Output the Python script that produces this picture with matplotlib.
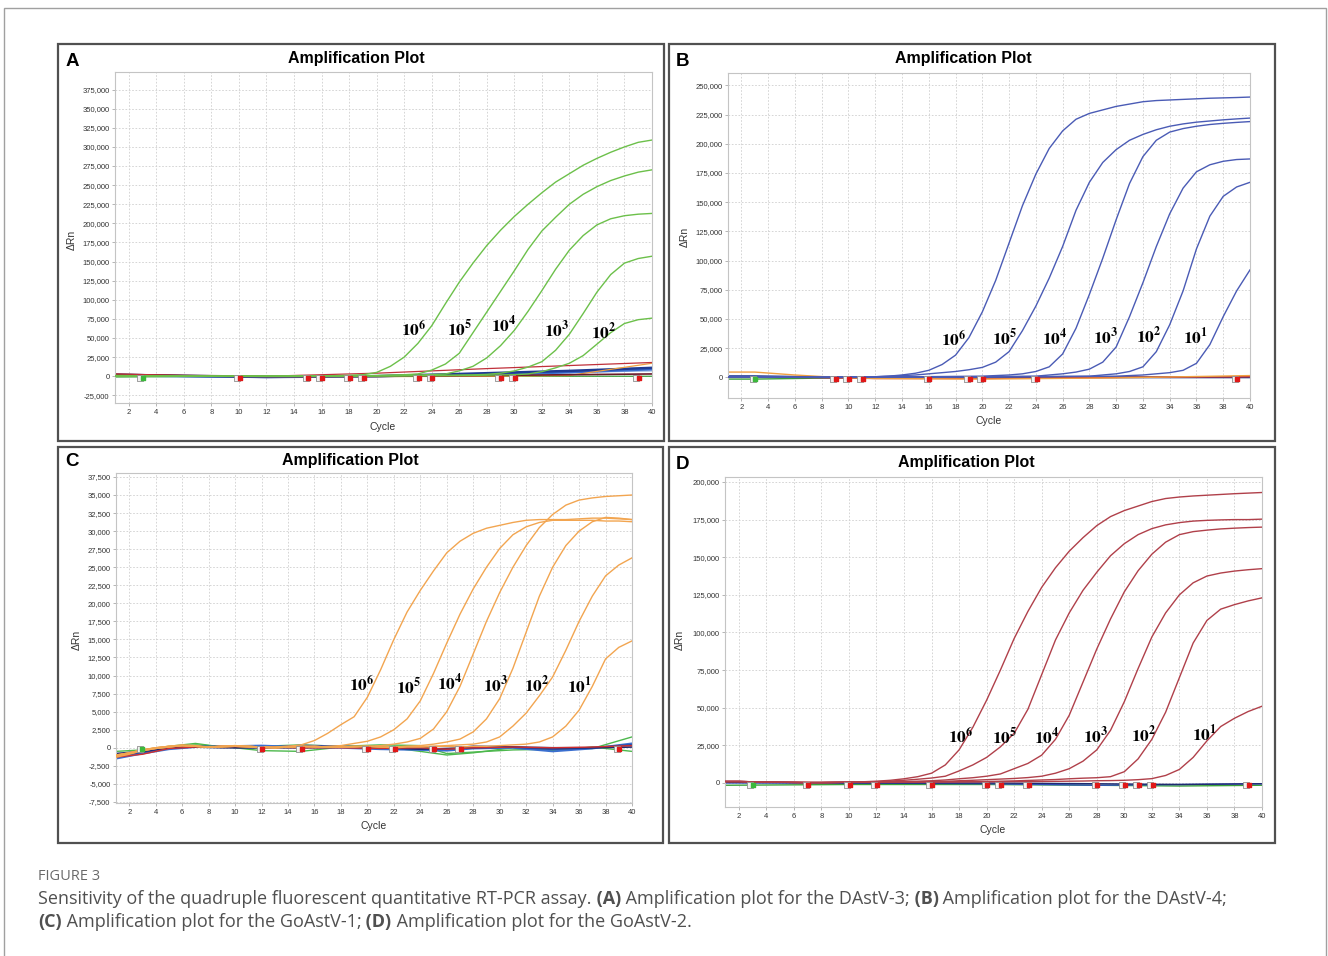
import numpy as np
import matplotlib
matplotlib.use('Agg')
import matplotlib.pyplot as plt
from matplotlib.patches import Rectangle
from matplotlib.ticker import FuncFormatter

plt.rcParams['mathtext.fontset'] = 'stix'

W, H = 1328, 956
cycles = np.arange(1, 41)

# ---- panel A (DAstV-3), delta Rn in thousands, cycles 1..40
a_1e6 = [1, 0.8, 0.5, 0.3, 0.2, 0.1, 0, 0, 0, 0, 0, 0, 0.1, 0.2, 0.3, 0.5, 0.8, 1.2,
         2, 5, 13, 25, 43, 66, 95, 123, 148, 171, 191, 209, 225, 240, 254, 265, 276, 285, 293, 300, 306, 309]
a_1e5 = [0.5, 0.4, 0.3, 0.2, 0.1, 0, 0, 0, 0, 0, 0, 0, 0, 0.1, 0.2, 0.3, 0.4, 0.6, 0.8, 1.0, 1.5, 2.0,
         3, 8, 16, 30, 57, 84, 111, 138, 166, 190, 208, 225, 238, 248, 256, 262, 267, 270]
a_1e4 = [0.5, 0.4, 0.3, 0.2, 0.1, 0, 0, 0, 0, 0, 0, 0, 0, 0, 0.1, 0.2, 0.3, 0.4, 0.5, 0.7, 0.9, 1.2, 1.6, 2.2,
         3, 7, 13, 24, 40, 60, 85, 112, 140, 165, 184, 198, 206, 210, 212, 213]
a_1e3 = [0.5, 0.4, 0.3, 0.2, 0.1, 0, 0, 0, 0, 0, 0, 0, 0, 0, 0, 0.1, 0.2, 0.3, 0.4, 0.5, 0.6, 0.7, 0.8, 1.0,
         1.2, 1.5, 1.8, 2.5, 4, 7, 12, 19, 34, 55, 82, 110, 133, 148, 154, 157]
a_1e2 = [0.5, 0.4, 0.3, 0.2, 0.1, 0, 0, 0, 0, 0, 0, 0, 0, 0, 0, 0, 0.1, 0.2, 0.3, 0.4, 0.5, 0.6, 0.7, 0.8,
         0.9, 1.0, 1.2, 1.4, 1.7, 2, 3, 6, 11, 17, 27, 42, 57, 69, 74, 76]
a_base_cyc = [1, 6, 12, 20, 28, 34, 40]
a_base_red = [3, 1, 0, 4, 10, 14, 18]
a_base_navy = [2, 0.5, -1, 0, 4, 7, 11]
a_base_blue = [1, 0, -1, 0, 2, 5, 9]
a_base_light = [0.5, 0, 0, 1, 3, 5, 7]
a_base_dark = [2.5, 1, 0, 0, 1, 2, 3]
a_base_orange = [0, 0, -0.5, -0.5, 0, 1, 17]
a_base_green = [-1, -0.5, 0, 0, 0, 0, 0]
a_marks_red = [10, 15, 16, 18, 19, 23, 24, 29, 30, 39]
a_lab_x = [22.7, 26.0, 29.2, 33.1, 36.5]
a_lab_y = [61, 61, 66, 60, 58]

# ---- panel B (DAstV-4)
b_1e6 = [0.5, 0.4, 0.3, 0.2, 0.1, 0, 0, 0, 0, 0, 0.2,
         0.5, 1, 2, 3.5, 6, 11, 19, 34, 56, 83, 115, 147, 174, 196, 211, 221, 226, 229, 232, 234,
         236, 237, 237.5, 238, 238.5, 239, 239.3, 239.6, 240]
b_1e5 = [0.5, 0.4, 0.3, 0.2, 0.1, 0, 0, 0, 0, 0, 0.2, 0.5,
         1, 1.5, 2, 3, 4, 5, 6.5, 8.5, 13, 22, 40, 61, 85, 112, 143, 167, 184, 195, 203, 208,
         212, 215, 217, 218.5, 219.5, 220.5, 221.3, 222]
b_1e4 = [0.5, 0.4, 0.3, 0.2, 0.1, 0, 0, 0, 0, 0, 0.1, 0.2, 0.3, 0.4, 0.5, 0.6, 0.7, 0.8, 0.9,
         1, 1.5, 2, 3, 5, 9, 20, 42, 71, 102, 135, 166, 189, 203, 210, 213, 215, 216.5, 217.5, 218.3, 219]
b_1e3 = [0.5, 0.4, 0.3, 0.2, 0.1, 0, 0, 0, 0, 0, 0, 0.1, 0.2, 0.3, 0.3, 0.4, 0.4, 0.5, 0.5, 0.6, 0.7, 0.8, 0.9,
         1, 2, 3, 4.5, 7, 13, 26, 52, 81, 112, 140, 162, 176, 182, 185, 186.5, 187]
b_1e2 = [0.5, 0.4, 0.3, 0.2, 0.1, 0, 0, 0, 0, 0, 0, 0, 0.1, 0.1, 0.2, 0.2, 0.3, 0.3, 0.4, 0.4, 0.5, 0.5,
         0.6, 0.6, 0.7, 0.8, 0.9, 1, 2, 3, 5, 9, 22, 45, 74, 110, 138, 155, 163, 167]
b_1e1 = [0.5, 0.4, 0.3, 0.2, 0.1, 0, 0, 0, 0, 0, 0, 0, 0, 0.1, 0.1, 0.2, 0.2, 0.3, 0.3, 0.4, 0.4, 0.5,
         0.5, 0.6, 0.6, 0.7, 0.7, 0.8, 0.9, 1, 1.5, 2, 3, 4, 6, 12, 28, 52, 74, 92]
b_base_cyc = [1, 3, 6, 9, 12, 20, 30, 40]
b_base_orange = [4.5, 4.5, 2, 0, -1, -1.5, -0.5, 1.5]
b_base_green = [-1.5, -1.5, -1, -0.5, 0, 0, 0, 0]
b_base_red = [0, 0, 0, -0.5, -1, -1, 0, 0.5]
b_base_navy = [1, 1, 0.5, 0, 0, 0, 0, 0]
b_marks_red = [9, 10, 11, 16, 19, 20, 24, 39]
b_lab_x = [17.9, 21.7, 25.4, 29.2, 32.4, 35.9]
b_lab_y = [32, 33, 33, 34, 35, 34]

# ---- panel C (GoAstV-1)
c_1e6 = [-1.2, -0.8, -0.4, -0.1, 0.1, 0.3, 0.2, 0.1, 0.2, 0.3, 0.2, 0.1, 0.1,
         0.2, 0.4, 1.0, 2.0, 3.2, 4.3, 7.0, 10.8, 15.0, 18.8, 21.8, 24.5, 27.0, 28.6, 29.7, 30.4,
         30.8, 31.2, 31.5, 31.6, 31.6, 31.6, 31.7, 31.8, 31.8, 31.7, 31.6]
c_1e5 = [-1.0, -0.7, -0.3, 0, 0.2, 0.3, 0.2, 0.1, 0.2, 0.3, 0.2, 0.1, 0.1, 0.2, 0.2, 0.1, 0.2,
         0.3, 0.6, 0.9, 1.5, 2.5, 4.0, 6.5, 10.3, 14.5, 18.5, 22.0, 25.0, 27.6, 29.5, 30.6, 31.2,
         31.5, 31.5, 31.5, 31.5, 31.4, 31.4, 31.3]
c_1e4 = [-1.1, -0.7, -0.3, 0, 0.2, 0.4, 0.3, 0.1, 0.1, 0.2, 0.2, 0.1, 0, 0.1, 0.2, 0.2, 0.1, 0.1, 0.2, 0.2,
         0.3, 0.5, 0.8, 1.3, 2.6, 5.0, 8.5, 13.0, 17.5, 21.5, 25.0, 28.0, 30.5, 32.3, 33.6, 34.3,
         34.6, 34.8, 34.9, 35.0]
c_1e3 = [-1.3, -0.9, -0.4, -0.1, 0.1, 0.3, 0.2, 0.1, 0.2, 0.2, 0.1, 0, 0, 0.1, 0.2, 0.1, 0.1, 0.1, 0.2, 0.2,
         0.1, 0.1, 0.2, 0.3, 0.5, 0.8, 1.2, 2.2, 4.0, 6.8, 11.0, 16.0, 21.0, 25.0, 28.0, 30.0,
         31.3, 31.9, 31.8, 31.6]
c_1e2 = [-1.0, -0.7, -0.3, 0, 0.2, 0.3, 0.2, 0.1, 0.1, 0.2, 0.2, 0.1, 0, 0.1, 0.2, 0.2, 0.1, 0.1, 0.1, 0.2,
         0.1, 0.1, 0.2, 0.2, 0.2, 0.3, 0.4, 0.5, 0.8, 1.5, 3.0, 4.8, 7.2, 9.8, 13.5, 17.5, 21.0,
         23.8, 25.3, 26.3]
c_1e1 = [-1.2, -0.8, -0.4, -0.1, 0.1, 0.3, 0.2, 0.1, 0.2, 0.2, 0.1, 0, 0, 0.1, 0.1, 0.2, 0.1, 0.1, 0.1, 0.2,
         0.1, 0, 0.1, 0.1, 0.2, 0.2, 0.1, 0.2, 0.2, 0.3, 0.4, 0.5, 0.8, 1.5, 3.0, 5.2, 8.5, 12.3,
         13.9, 14.8]
c_base_cyc = [1, 3, 5, 7, 9, 12, 15, 18, 21, 24, 26, 28, 31, 34, 37, 40]
c_base_green1 = [-0.5, -0.3, 0.2, 0.6, 0.1, 0.2, 0.4, 0.2, 0.4, 0.3, -0.8, -0.6, -0.3, -0.2, -0.1, 1.5]
c_base_green2 = [-1.0, -0.8, 0.1, 0.4, 0.2, -0.4, -0.5, 0.1, 0.2, -0.5, -1.0, -0.7, 0.0, -0.4, 0.1, -0.5]
c_base_blue1 = [-1.5, -0.8, -0.2, 0.1, 0.2, 0.3, 0.1, 0.0, -0.2, -0.3, -0.4, -0.1, 0.0, -0.5, -0.1, 0.6]
c_base_blue2 = [-1.2, -0.6, 0.0, 0.2, 0.1, 0.0, 0.3, 0.2, 0.0, -0.1, -0.2, 0.2, 0.1, -0.2, 0.0, 0.4]
c_base_red = [-1.3, -0.9, -0.1, 0.1, 0.2, 0.1, 0.0, 0.0, -0.1, 0.0, -0.2, 0.0, 0.1, 0.0, 0.1, 0.3]
c_base_navy = [-0.8, -0.5, 0.0, 0.1, 0.0, 0.0, 0.0, 0.1, 0.0, -0.2, -0.1, 0.0, 0.1, 0.0, 0.0, 0.1]
c_marks_red = [12, 15, 20, 22, 25, 27, 39]
c_lab_x = [19.6, 23.1, 26.2, 29.7, 32.8, 36.0]
c_lab_y = [8.7, 8.4, 8.9, 8.7, 8.7, 8.5]

# ---- panel D (GoAstV-2)
d_1e6 = [1, 1, 0.8, 0.6, 0.5, 0.4, 0.3, 0.3, 0.4,
         0.5, 0.8, 1.2, 1.8, 2.8, 4.2, 6.5, 12, 22, 37, 55, 75, 96, 114, 130, 143, 154, 163, 171,
         177, 181, 184, 187, 189, 190, 190.7, 191.2, 191.7, 192.2, 192.6, 193]
d_1e5 = [1, 1, 0.8, 0.6, 0.5, 0.4, 0.3, 0.3, 0.4, 0.5, 0.6,
         0.8, 1.3, 1.8, 2.5, 3.3, 4.5, 8, 12, 17, 24, 33, 49, 72, 95, 113, 128, 140, 151, 159, 165,
         169, 171.5, 173, 174, 174.5, 174.8, 175, 175, 175.3]
d_1e4 = [1, 1, 0.8, 0.6, 0.5, 0.4, 0.3, 0.3, 0.4, 0.5, 0.6, 0.7, 0.8,
         0.9, 1.2, 1.5, 2, 2.8, 3.5, 4.5, 6, 9.5, 13, 18.5, 29, 45, 67, 89, 109, 127, 141, 152, 160,
         165, 167, 168, 168.8, 169.3, 169.7, 170]
d_1e3 = [1, 1, 0.8, 0.6, 0.5, 0.4, 0.3, 0.3, 0.4, 0.5, 0.6, 0.6, 0.7, 0.7, 0.8,
         0.8, 1.1, 1.5, 1.8, 2.2, 2.6, 3, 3.6, 4.5, 6.5, 9.5, 14.5, 22, 35, 54, 76, 97, 113, 125, 133,
         137.5, 139.5, 140.8, 141.7, 142.4]
d_1e2 = [1, 1, 0.8, 0.6, 0.5, 0.4, 0.3, 0.3, 0.4, 0.5, 0.5, 0.6, 0.6, 0.7, 0.7, 0.8, 0.8, 0.9, 0.9,
         1, 1.2, 1.4, 1.7, 2, 2.3, 2.8, 3.2, 3.5, 4.2, 7.5, 16, 29, 47, 70, 93, 108, 115.5, 118.5, 121, 123]
d_1e1 = [1, 1, 0.8, 0.6, 0.5, 0.4, 0.3, 0.3, 0.4, 0.5, 0.5, 0.5, 0.6, 0.6, 0.6, 0.7, 0.7, 0.7, 0.8, 0.8,
         0.8, 0.9, 0.9, 1, 1.1, 1.2, 1.3, 1.5, 1.6, 1.8, 2.2, 2.9, 5, 9, 17, 28, 37.5, 43, 47.5, 51]
d_base_cyc = [1, 10, 20, 28, 34, 40]
d_base_blue = [0, 0, -0.5, -1.5, -1, -0.5]
d_base_green = [-1.5, -1, -1, -1.5, -2, -1.5]
d_base_navy = [0.5, 0, 0, -0.5, -1, -0.5]
d_marks_red = [7, 10, 12, 16, 20, 21, 23, 28, 30, 31, 32, 39]
d_lab_x = [18.1, 21.3, 24.4, 27.9, 31.4, 35.8]
d_lab_y = [30.6, 30.0, 30.6, 31.0, 31.7, 32.0]

dilutions = [6, 5, 4, 3, 2, 1]

fig = plt.figure(figsize=(W / 100, H / 100), dpi=100)


def fx(x):
    return x / W


def fy(y):
    return 1 - y / H


def add_box(x0, y0, x1, y1, **kw):
    fig.patches.append(Rectangle((fx(x0), fy(y1)), fx(x1 - x0), (y1 - y0) / H,
                                 transform=fig.transFigure, fill=False, **kw))


# outer frame of the figure page
add_box(4, 8, 1326, 962, edgecolor='#a0a0a0', linewidth=1.0)


def panel(frame, box, letter, title_xy, cycle_xy, drn_xy, ylim, yticks,
          curves, color, lab_x, lab_y, bases, marks, mark_y):
    add_box(*frame, edgecolor='#505050', linewidth=1.6)
    x0, y0, x1, y1 = box
    ax = fig.add_axes([fx(x0), fy(y1), fx(x1 - x0), (y1 - y0) / H])
    for (bx, by), c, lw in bases:
        ax.plot(bx, np.array(by) * 1000, color=c, lw=lw, zorder=2)
    for vals in curves:
        ax.plot(cycles, np.array(vals) * 1000, color=color, lw=1.0, zorder=3)
    for lx, ly, d in zip(lab_x, lab_y, dilutions):
        ax.text(lx, ly * 1000, r'$\mathbf{10^{%d}}$' % d, fontsize=12.5,
                ha='center', va='center', zorder=5)
    ax.scatter([2.85], [mark_y], marker='s', s=14, facecolor='#f2f2f2',
               edgecolor='#909090', linewidth=0.6, zorder=4)
    ax.scatter([3.0], [mark_y], marker='s', s=9, color='#3cb83c', zorder=4)
    mk = np.array(marks, dtype=float)
    ax.scatter(mk - 0.15, np.full(len(mk), mark_y), marker='s', s=14, facecolor='#f2f2f2',
               edgecolor='#909090', linewidth=0.6, zorder=4)
    ax.scatter(mk + 0.05, np.full(len(mk), mark_y), marker='s', s=9, color='#e01818', zorder=4)

    ax.set_xlim(1, 40)
    ax.set_ylim(*ylim)
    ax.set_xticks(np.arange(2, 41, 2))
    ax.set_yticks(yticks)
    ax.yaxis.set_major_formatter(FuncFormatter(lambda v, p: f'{v:,.0f}'))
    ax.grid(True, color='#cfcfcf', linestyle=(0, (2, 2)), linewidth=0.6)
    ax.set_axisbelow(True)
    for s in ax.spines.values():
        s.set_color('#c4c4c4')
        s.set_linewidth(0.8)
    ax.tick_params(labelsize=5.5, length=2, width=0.5, color='#999999',
                   labelcolor='#333333', pad=2)
    for t in ax.get_xticklabels() + ax.get_yticklabels():
        t.set_family('Liberation Sans')

    fig.text(fx(frame[0] + 14), fy(title_xy[1] + 2), letter, fontsize=13.5, fontweight='bold',
             family='Liberation Sans', ha='center', va='center')
    fig.text(fx(title_xy[0]), fy(title_xy[1]), 'Amplification Plot', fontsize=11.5,
             fontweight='bold', family='Liberation Sans', ha='center', va='center')
    fig.text(fx(cycle_xy[0]), fy(cycle_xy[1]), 'Cycle', fontsize=7.5,
             family='Liberation Sans', color='#333333', ha='center', va='center')
    fig.text(fx(drn_xy[0]), fy(drn_xy[1]), 'ΔRn', fontsize=7.5, rotation=90,
             family='Liberation Sans', color='#333333', ha='center', va='center')
    return ax


panel((58, 44, 664, 441), (115, 72, 652, 403), 'A', (356, 59), (383, 427), (72, 240),
      (-35000, 398000), np.arange(-25000, 375001, 25000),
      [a_1e6, a_1e5, a_1e4, a_1e3, a_1e2], '#6cc04a', a_lab_x, a_lab_y,
      [((a_base_cyc, a_base_green), '#3aa03a', 0.9),
       ((a_base_cyc, a_base_light), '#8fb0e0', 0.9),
       ((a_base_cyc, a_base_blue), '#3a6fd0', 1.6),
       ((a_base_cyc, a_base_navy), '#1f3a93', 1.8),
       ((a_base_cyc, a_base_orange), '#f0a040', 0.9),
       ((a_base_cyc, a_base_dark), '#6a1a2a', 1.2),
       ((a_base_cyc, a_base_red), '#c0303a', 0.9)],
      a_marks_red, -2000)

panel((669, 44, 1275, 441), (728, 73, 1250, 398), 'B', (963, 59), (989, 421), (685, 237),
      (-17700, 260600), np.arange(0, 250001, 25000),
      [b_1e6, b_1e5, b_1e4, b_1e3, b_1e2, b_1e1], '#4a5bb5', b_lab_x, b_lab_y,
      [((b_base_cyc, b_base_green), '#3aa03a', 1.0),
       ((b_base_cyc, b_base_navy), '#1f3a93', 1.4),
       ((b_base_cyc, b_base_red), '#d03030', 1.0),
       ((b_base_cyc, b_base_orange), '#f0a040', 1.0)],
      b_marks_red, -1500)

panel((58, 447, 663, 843), (116, 473, 632, 803), 'C', (350, 460), (374, 826), (77, 640),
      (-7650, 38050), np.arange(-7500, 37501, 2500),
      [c_1e6, c_1e5, c_1e4, c_1e3, c_1e2, c_1e1], '#f2a550', c_lab_x, c_lab_y,
      [((c_base_cyc, c_base_green1), '#4cb84c', 1.0),
       ((c_base_cyc, c_base_green2), '#4cb84c', 1.0),
       ((c_base_cyc, c_base_blue1), '#3a6fd0', 1.4),
       ((c_base_cyc, c_base_blue2), '#2a4aa8', 1.4),
       ((c_base_cyc, c_base_navy), '#1f2a70', 1.2),
       ((c_base_cyc, c_base_red), '#d03030', 1.0)],
      c_marks_red, -200)

panel((669, 447, 1275, 843), (725, 477, 1262, 807), 'D', (966, 463), (993, 830), (680, 640),
      (-15950, 203300), np.arange(0, 200001, 25000),
      [d_1e6, d_1e5, d_1e4, d_1e3, d_1e2, d_1e1], '#b0404a', d_lab_x, d_lab_y,
      [((d_base_cyc, d_base_green), '#3aa03a', 1.0),
       ((d_base_cyc, d_base_blue), '#3050c0', 1.0),
       ((d_base_cyc, d_base_navy), '#1f2a70', 1.0)],
      d_marks_red, -1500)

# caption
renderer = fig.canvas.get_renderer()


def runs(x, y, parts, size, color):
    for text, bold in parts:
        t = fig.text(fx(x), fy(y), text, fontsize=size, family='Open Sans',
                     fontweight='bold' if bold else 'normal', color=color,
                     ha='left', va='center')
        x += t.get_window_extent(renderer).width


fig.text(fx(38), fy(876), 'FIGURE 3', fontsize=10.5, family='Open Sans', color='#6a6a6a',
         ha='left', va='center')
runs(38, 899, [('Sensitivity of the quadruple fluorescent quantitative RT-PCR assay.', False),
               (' (A)', True), (' Amplification plot for the DAstV-3;', False),
               (' (B)', True), (' Amplification plot for the DAstV-4;', False)], 12.95, '#505050')
runs(38, 922, [('(C)', True), (' Amplification plot for the GoAstV-1;', False),
               (' (D)', True), (' Amplification plot for the GoAstV-2.', False)], 12.95, '#505050')

fig.savefig('out.png', dpi=100)
